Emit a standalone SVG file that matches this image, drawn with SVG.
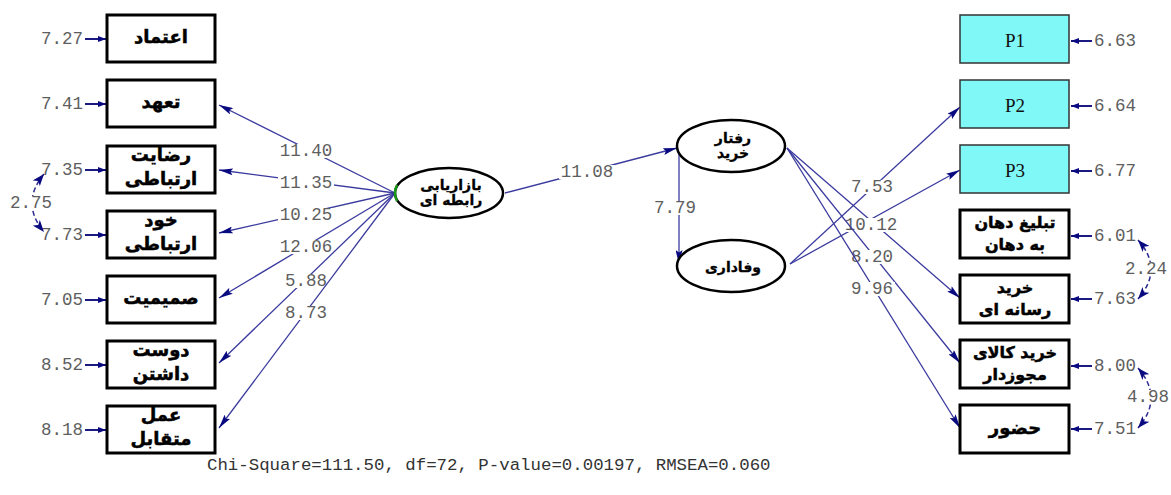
<svg xmlns="http://www.w3.org/2000/svg" width="1171" height="495" viewBox="0 0 1171 495">
<defs>
<style>
.box{fill:#fff;stroke:#000;stroke-width:3}
.pbox{fill:#80f8f8;stroke:#333;stroke-width:1.5}
.ell{fill:#fff;stroke:#000;stroke-width:2.5}
.fa{font-family:"DejaVu Sans",sans-serif;font-weight:bold;text-anchor:middle;fill:#000;stroke:#000;stroke-width:0.5}
.bx{font-size:18px}
.bs{font-size:16px}
.es{font-size:14px;stroke-width:0.3}
.pl{font-family:"Liberation Serif",serif;font-size:19px;text-anchor:middle;dominant-baseline:central;fill:#111}
.num{font-family:"Liberation Mono",monospace;font-size:17.5px;fill:#5e5e5e}
.lbl{text-anchor:middle;dominant-baseline:central}
.bg{fill:#fff}
.edge{stroke:#3b3b9f;stroke-width:1.3;fill:none;marker-end:url(#ah)}
.err{stroke:#1a1a80;stroke-width:2;fill:none;marker-end:url(#sh)}
.cov{stroke:#2a2a90;stroke-width:1.5;fill:none;stroke-dasharray:5 3;marker-start:url(#ch);marker-end:url(#ch)}
</style>
<marker id="ah" viewBox="0 0 14 7" refX="14" refY="3.5" markerWidth="14" markerHeight="7" markerUnits="userSpaceOnUse" orient="auto">
<path d="M0,0 L14,3.5 L0,7 L2.5,3.5 z" fill="#0a0a80"/>
</marker>
<marker id="sh" viewBox="0 0 8 6" refX="8" refY="3" markerWidth="8" markerHeight="6" markerUnits="userSpaceOnUse" orient="auto">
<path d="M0,0 L8,3 L0,6 z" fill="#0a0a80"/>
</marker>
<marker id="ch" viewBox="0 0 12 9" refX="12" refY="4.5" markerWidth="12" markerHeight="9" markerUnits="userSpaceOnUse" orient="auto-start-reverse">
<path d="M0,0 L12,4.5 L0,9 L3,4.5 z" fill="#0a0a80"/>
</marker>
</defs>
<rect width="1171" height="495" fill="#fff"/>

<g id="connectors">
<g class="num">
<line class="edge" x1="395" y1="193" x2="219" y2="105"/>
<rect class="bg" x="278" y="144" width="56" height="14"/><text class="lbl" x="306" y="151">11.40</text>
<line class="edge" x1="395" y1="193" x2="219" y2="170"/>
<rect class="bg" x="278" y="176" width="56" height="14"/><text class="lbl" x="306" y="183">11.35</text>
<line class="edge" x1="395" y1="193" x2="219" y2="233"/>
<rect class="bg" x="278" y="208" width="56" height="14"/><text class="lbl" x="306" y="215">10.25</text>
<line class="edge" x1="395" y1="193" x2="219" y2="298"/>
<rect class="bg" x="278" y="240" width="56" height="14"/><text class="lbl" x="306" y="247">12.06</text>
<line class="edge" x1="395" y1="193" x2="219" y2="363"/>
<rect class="bg" x="284" y="274" width="45" height="14"/><text class="lbl" x="306" y="281">5.88</text>
<line class="edge" x1="395" y1="193" x2="219" y2="428"/>
<rect class="bg" x="284" y="306" width="45" height="14"/><text class="lbl" x="306" y="313">8.73</text>

<line class="edge" x1="505" y1="193" x2="677" y2="148"/>
<rect class="bg" x="559" y="165" width="56" height="14"/><text class="lbl" x="587" y="172">11.08</text>
<line class="edge" x1="679" y1="148" x2="679" y2="264"/>
<rect class="bg" x="653" y="201" width="45" height="14"/><text class="lbl" x="675" y="208">7.79</text>

<line class="edge" x1="790" y1="264" x2="960" y2="107"/>
<rect class="bg" x="850" y="180" width="45" height="14"/><text class="lbl" x="872" y="187">7.53</text>
<line class="edge" x1="790" y1="264" x2="960" y2="170"/>
<line class="edge" x1="787" y1="148" x2="960" y2="298"/>
<rect class="bg" x="843" y="218" width="56" height="14"/><text class="lbl" x="871" y="225">10.12</text>
<line class="edge" x1="787" y1="148" x2="960" y2="363"/>
<rect class="bg" x="850" y="250" width="45" height="14"/><text class="lbl" x="872" y="257">8.20</text>
<line class="edge" x1="787" y1="148" x2="960" y2="428"/>
<rect class="bg" x="850" y="282" width="45" height="14"/><text class="lbl" x="872" y="289">9.96</text>
</g>

<line class="err" x1="85" y1="39" x2="106" y2="39"/>
<line class="err" x1="85" y1="104" x2="106" y2="104"/>
<line class="err" x1="85" y1="170" x2="106" y2="170"/>
<line class="err" x1="85" y1="235" x2="106" y2="235"/>
<line class="err" x1="85" y1="300" x2="106" y2="300"/>
<line class="err" x1="85" y1="365" x2="106" y2="365"/>
<line class="err" x1="85" y1="430" x2="106" y2="430"/>
<line class="err" x1="1092" y1="41" x2="1071" y2="41"/>
<line class="err" x1="1092" y1="106" x2="1071" y2="106"/>
<line class="err" x1="1092" y1="171" x2="1071" y2="171"/>
<line class="err" x1="1092" y1="236" x2="1071" y2="236"/>
<line class="err" x1="1092" y1="299" x2="1071" y2="299"/>
<line class="err" x1="1092" y1="366" x2="1071" y2="366"/>
<line class="err" x1="1092" y1="429" x2="1071" y2="429"/>

<g class="num" dominant-baseline="central" text-anchor="end">
<text x="83" y="39">7.27</text>
<text x="83" y="104">7.41</text>
<text x="83" y="170">7.35</text>
<text x="83" y="235">7.73</text>
<text x="83" y="300">7.05</text>
<text x="83" y="365">8.52</text>
<text x="83" y="430">8.18</text>
</g>
<g class="num" dominant-baseline="central">
<text x="1094" y="41">6.63</text>
<text x="1094" y="106">6.64</text>
<text x="1094" y="171">6.77</text>
<text x="1094" y="236">6.01</text>
<text x="1094" y="299">7.63</text>
<text x="1094" y="366">8.00</text>
<text x="1094" y="429">7.51</text>
</g>

<path class="cov" d="M44,174 Q20,203 44,232"/>
<path class="cov" d="M1138,240 Q1164,269 1138,299"/>
<path class="cov" d="M1138,368 Q1164,398 1138,428"/>
<g class="num">
<rect class="bg" x="10" y="196" width="43" height="14"/><text class="lbl" x="31" y="203">2.75</text>
<rect class="bg" x="1125" y="262" width="43" height="14"/><text class="lbl" x="1146" y="269">2.24</text>
<rect class="bg" x="1127" y="390" width="43" height="14"/><text class="lbl" x="1148" y="397">4.98</text>
</g>
</g>

<g id="n_etemad"><rect class="box" x="107" y="15" width="108" height="47"/><text class="fa bx" x="161" y="43">اعتماد</text></g>
<g id="n_taahod"><rect class="box" x="107" y="80" width="108" height="47"/><text class="fa bx" x="161" y="108">تعهد</text></g>
<g id="n_rezayat"><rect class="box" x="107" y="146" width="108" height="47"/><text class="fa bx" x="161" y="161">رضایت</text><text class="fa bx" x="161" y="185">ارتباطی</text></g>
<g id="n_khod"><rect class="box" x="107" y="211" width="108" height="47"/><text class="fa bx" x="161" y="226">خود</text><text class="fa bx" x="161" y="250">ارتباطی</text></g>
<g id="n_samimiyat"><rect class="box" x="107" y="276" width="108" height="47"/><text class="fa bx" x="161" y="304">صمیمیت</text></g>
<g id="n_doost"><rect class="box" x="107" y="341" width="108" height="47"/><text class="fa bx" x="161" y="356">دوست</text><text class="fa bx" x="161" y="380">داشتن</text></g>
<g id="n_amal"><rect class="box" x="107" y="406" width="108" height="47"/><text class="fa bx" x="161" y="421">عمل</text><text class="fa bx" x="161" y="445">متقابل</text></g>

<g id="n_bazaryabi"><ellipse class="ell" cx="449" cy="193" rx="54" ry="25"/><path d="M397,185 Q393,193 397,201" stroke="#1a9a1a" stroke-width="2.5" fill="none"/><text class="fa es" x="451" y="190">بازاریابی</text><text class="fa es" x="451" y="205">رابطه ای</text></g>
<g id="n_raftar"><ellipse class="ell" cx="731" cy="146" rx="54" ry="26"/><text class="fa es" x="733" y="143">رفتار</text><text class="fa es" x="733" y="158">خرید</text></g>
<g id="n_vafadari"><ellipse class="ell" cx="731" cy="266" rx="54" ry="26"/><text class="fa es" x="733" y="272">وفاداری</text></g>

<g id="n_p1"><rect class="pbox" x="960" y="15" width="109" height="48"/><text class="pl" x="1015" y="40">P1</text></g>
<g id="n_p2"><rect class="pbox" x="960" y="80" width="109" height="48"/><text class="pl" x="1015" y="105">P2</text></g>
<g id="n_p3"><rect class="pbox" x="960" y="145" width="109" height="48"/><text class="pl" x="1015" y="170">P3</text></g>
<g id="n_tabligh"><rect class="box" x="960" y="210" width="109" height="48"/><text class="fa bs" x="1015" y="228">تبلیغ دهان</text><text class="fa bs" x="1015" y="250">به دهان</text></g>
<g id="n_resane"><rect class="box" x="960" y="275" width="109" height="48"/><text class="fa bs" x="1015" y="293">خرید</text><text class="fa bs" x="1015" y="315">رسانه ای</text></g>
<g id="n_kala"><rect class="box" x="960" y="340" width="109" height="48"/><text class="fa bs" x="1015" y="358">خرید کالای</text><text class="fa bs" x="1015" y="380">مجوزدار</text></g>
<g id="n_hozoor"><rect class="box" x="960" y="405" width="109" height="48"/><text class="fa bx" x="1015" y="434">حضور</text></g>

<text x="207" y="470" font-family="Liberation Mono, monospace" font-size="17.4" fill="#333">Chi-Square=111.50, df=72, P-value=0.00197, RMSEA=0.060</text>
</svg>
